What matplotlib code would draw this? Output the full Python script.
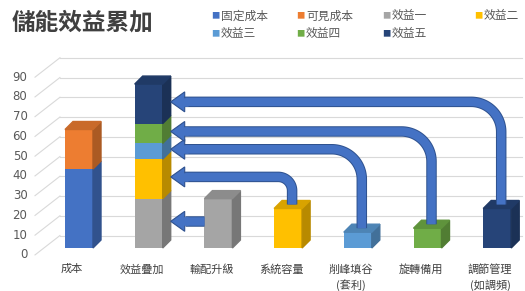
# 儲能效益累加 - pseudo 3D stacked columns with benefit arrows
import numpy as np
import matplotlib
matplotlib.use("Agg")
import matplotlib.pyplot as plt
import matplotlib.patheffects as pe
from matplotlib.patches import Polygon
from matplotlib.colors import to_rgb

plt.rcParams['font.family'] = ['Noto Sans CJK TC', 'DejaVu Sans']

# data
categories = ['成本', '效益疊加', '輸配升級', '系統容量', '削峰填谷\n(套利)', '旋轉備用', '調節管理\n(如調頻)']
series_names = ['固定成本', '可見成本', '效益一', '效益二', '效益三', '效益四', '效益五']
series_colors = ['#4472C4', '#ED7D31', '#A5A5A5', '#FFC000', '#5B9BD5', '#70AD47', '#264478']
cost_values = [40, 20]                 # 固定成本, 可見成本
benefit_values = [25, 20, 8, 10, 20]   # 效益一 .. 效益五
y_ticks = np.arange(0, 100, 10)

# figure: one axes over the whole canvas, units = categories / values
PX_X = 69.7     # pixels per category
PX_Y = 1.975    # pixels per value unit
fig = plt.figure(figsize=(5.25, 2.91), dpi=100)
ax = fig.add_axes([0, 0, 1, 1])
ax.set_xlim(-79 / PX_X, (525 - 79) / PX_X)
ax.set_ylim((248 - 291) / PX_Y, 248 / PX_Y)
ax.axis('off')

w = 28 / PX_X       # bar front width
dx = 8 / PX_X       # depth offset
dy = 8 / PX_Y
wall = 12.5 / PX_Y  # back wall offset


def shade(c, f):
    return tuple(v * f for v in to_rgb(c))


# gridlines on the back wall with the floor diagonals
for v in y_ticks:
    ax.plot([-0.631, -0.273], [v - 3.5, v + wall], color='#d9d9d9', lw=0.8, zorder=0)
    ax.plot([-0.273, 6.36], [v + wall, v + wall], color='#d9d9d9', lw=0.8, zorder=0)
    ax.text(-0.74, v - 3.5, str(v), ha='right', va='center', fontsize=8.5,
            color='#595959', family=['DejaVu Sans'])


def box(x, bottom, h, color, top=False):
    ax.bar(x, h, bottom=bottom, width=w, color=color, zorder=2)
    r = x + w / 2
    ax.add_patch(Polygon([(r, bottom), (r + dx, bottom + dy), (r + dx, bottom + h + dy),
                          (r, bottom + h)], color=shade(color, 0.72), zorder=2))
    if top:
        t = bottom + h
        ax.add_patch(Polygon([(x - w / 2, t), (x - w / 2 + dx, t + dy), (r + dx, t + dy),
                              (r, t)], color=shade(color, 0.85), zorder=2))


# cost column
base = 0
for i, v in enumerate(cost_values):
    box(0, base, v, series_colors[i], top=(i == len(cost_values) - 1))
    base += v

# stacked benefit column and the single benefit columns
base = 0
levels = []
for i, v in enumerate(benefit_values):
    c = series_colors[i + 2]
    box(1, base, v, c, top=(i == len(benefit_values) - 1))
    box(i + 2, 0, v, c, top=True)
    levels.append(base + v / 2 + 1)
    base += v

# category labels
for i, name in enumerate(categories):
    ax.text(i - 0.1, -8.1, name, ha='center', va='top', fontsize=8,
            color='#404040', linespacing=1.45)

# arrows (built in pixel space, drawn in data space)
fill, edge = '#4472C4', '#2F528F'
lw_fill, lw_edge = 8.5 * 0.72, 10.5 * 0.72
head_len, head_half = 14, 10
to_px = ax.transData.transform
to_data = ax.transData.inverted().transform
tip_x = to_px((1 + w / 2 + dx, 0))[0]

for i, v in enumerate(benefit_values):
    k = i + 2
    yl = to_px((0, levels[i]))[1]
    if i == 0:
        xs = to_px((k - w / 2, 0))[0]
        pts = np.array([[xs, yl], [tip_x + head_len, yl]])
    else:
        xs, ys = to_px((k + dx / 2, v + dy / 2))
        r = min(30, 0.5 * (yl - ys))
        t = np.linspace(0, np.pi / 2, 30)
        arc = np.column_stack([xs - r + r * np.cos(t), yl - r + r * np.sin(t)])
        pts = np.vstack([[xs, ys], arc, [tip_x + head_len, yl]])
    d = to_data(pts)
    ax.plot(d[:, 0], d[:, 1], color=fill, lw=lw_fill, solid_capstyle='butt',
            solid_joinstyle='round', zorder=3,
            path_effects=[pe.Stroke(linewidth=lw_edge, foreground=edge), pe.Normal()])
    head = to_data(np.array([[tip_x, yl], [tip_x + head_len, yl + head_half],
                             [tip_x + head_len, yl - head_half]]))
    ax.add_patch(Polygon(head, facecolor=fill, edgecolor=edge, lw=0.8, zorder=4))
    joint = to_data(np.array([[tip_x + head_len - 1.5, yl], [tip_x + head_len + 3, yl]]))
    ax.plot(joint[:, 0], joint[:, 1], color=fill, lw=lw_fill, solid_capstyle='butt', zorder=5)

# title
fig.text(12 / 525, 1 - 22 / 291, '儲能效益累加', fontsize=17, fontweight='bold',
         color='#404040', va='center', ha='left')

# legend
leg_x = [215, 300, 386, 478]
leg_y = [16, 34]
for i, (name, c) in enumerate(zip(series_names, series_colors)):
    px, py = leg_x[i % 4], leg_y[i // 4]
    fig.text(px / 525, 1 - py / 291, '■', color=c, fontsize=6, ha='center', va='center')
    fig.text((px + 6) / 525, 1 - py / 291, name, color='#595959', fontsize=8.5,
             ha='left', va='center')

fig.savefig('out.png', dpi=100)
